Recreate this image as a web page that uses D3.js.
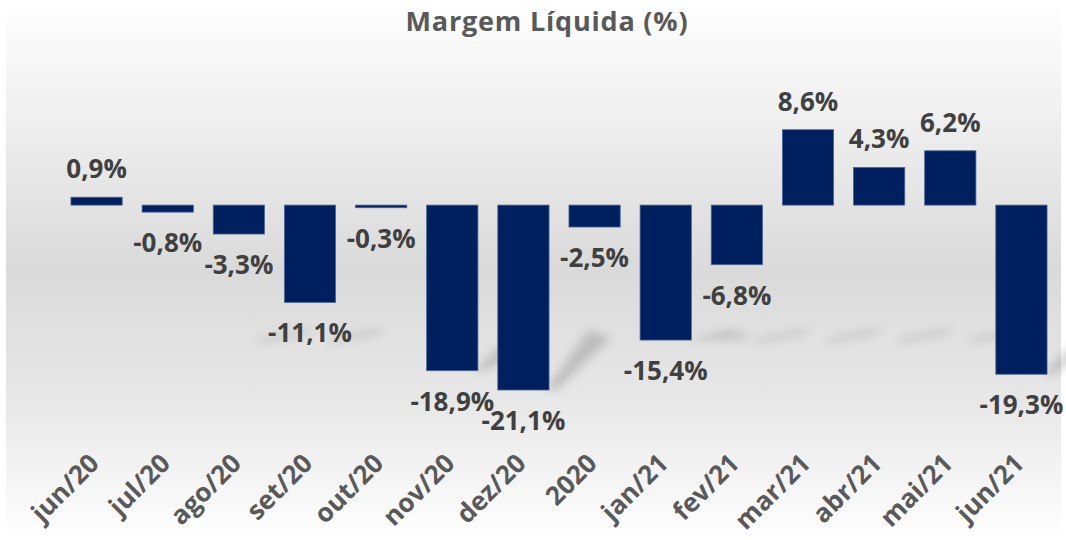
<!DOCTYPE html>
<html>
<head>
<meta charset="utf-8">
<script src="https://cdn.jsdelivr.net/npm/d3@7"></script>
<style>
  html, body { margin: 0; padding: 0; background: #ffffff; }
  svg { display: block; }
  text { font-family: "Open Sans", "DejaVu Sans", sans-serif; font-weight: 700; }
</style>
</head>
<body>
<svg id="chart" width="1066" height="540"></svg>
<script>
// chart data
const categories = ["jun/20", "jul/20", "ago/20", "set/20", "out/20", "nov/20", "dez/20",
  "2020", "jan/21", "fev/21", "mar/21", "abr/21", "mai/21", "jun/21"]
const margemLiquida = [0.9, -0.8, -3.3, -11.1, -0.3, -18.9, -21.1,
  -2.5, -15.4, -6.8, 8.6, 4.3, 6.2, -19.3]
const titleText = "Margem Líquida (%)"

const width = 1066
const height = 540

const svg = d3.select("#chart")

// plot background gradient
const defs = svg.append("defs")
const grad = defs.append("linearGradient")
  .attr("id", "bg")
  .attr("x1", 0).attr("y1", 0).attr("x2", 0).attr("y2", 1)
grad.selectAll("stop")
  .data([
    {o: 0, c: "#ffffff"},
    {o: 0.22, c: "#efefef"},
    {o: 0.5, c: "#dadada"},
    {o: 0.75, c: "#e8e8e8"},
    {o: 1, c: "#ffffff"}
  ])
  .join("stop")
  .attr("offset", d => d.o)
  .attr("stop-color", d => d.c)

defs.append("filter")
  .attr("id", "blur")
  .attr("x", "-50%").attr("y", "-50%").attr("width", "200%").attr("height", "200%")
  .append("feGaussianBlur")
  .attr("stdDeviation", 5)

svg.append("rect")
  .attr("x", 6).attr("y", 0)
  .attr("width", 1055).attr("height", height)
  .attr("fill", "url(#bg)")

// scales
const x = d3.scaleBand()
  .domain(categories)
  .range([61, 1057])
  .paddingInner(0.28)
  .paddingOuter(0.14)

const y = d3.scaleLinear()
  .domain([-21.1, 8.6])
  .range([390, 205 - 8.6 * 8.75])

const data = categories.map((c, i) => ({cat: c, value: margemLiquida[i]}))

// soft floor shadows (excel perspective shadow look)
const floorY = 338
svg.append("g")
  .attr("filter", "url(#blur)")
  .selectAll("path")
  .data(data.filter(d => Math.abs(d.value) > 3))
  .join("path")
  .attr("d", d => {
    const right = x(d.cat) + x.bandwidth()
    const bottom = Math.max(y(d.value), y(0))
    if (bottom > floorY) {
      return `M${right - 4},${bottom} L${right + 8},${bottom} L${right + 62},${floorY} L${right + 40},${floorY - 8} Z`
    }
    return `M${right - 10},${floorY + 6} L${right + 40},${floorY - 4} L${right + 50},${floorY - 10} L${right},${floorY} Z`
  })
  .attr("fill", "#000")
  .attr("opacity", 0.16)

// bars
svg.append("g")
  .selectAll("rect")
  .data(data)
  .join("rect")
  .attr("x", d => x(d.cat))
  .attr("width", x.bandwidth())
  .attr("y", d => Math.min(y(d.value), y(0)))
  .attr("height", d => Math.abs(y(d.value) - y(0)))
  .attr("fill", "#001f5f")
  .attr("stroke", "#4a6593")
  .attr("stroke-width", 0.8)

// value labels
const fmt = v => d3.format(".1f")(v).replace(".", ",").replace("−", "-") + "%"
svg.append("g")
  .selectAll("text")
  .data(data)
  .join("text")
  .attr("x", d => x(d.cat) + x.bandwidth() / 2)
  .attr("y", d => d.value >= 0 ? y(d.value) - 19 : y(d.value) + 40)
  .attr("text-anchor", "middle")
  .attr("font-size", 26)
  .attr("fill", "#404040")
  .text(d => fmt(d.value))

// category axis (rotated labels, no line)
const xAxis = d3.axisBottom(x).tickSize(0).tickPadding(0)
const axisG = svg.append("g")
  .attr("transform", "translate(0,465)")
  .call(xAxis)
axisG.select(".domain").remove()
axisG.selectAll("text")
  .attr("font-size", 26)
  .attr("font-family", "'Open Sans', sans-serif")
  .attr("font-weight", 700)
  .attr("fill", "#595959")
  .attr("text-anchor", "end")
  .attr("dy", 0)
  .attr("transform", "translate(4,0) rotate(-45)")

// title
svg.append("text")
  .attr("x", 547)
  .attr("y", 31)
  .attr("text-anchor", "middle")
  .attr("font-size", 27)
  .attr("letter-spacing", 0.8)
  .attr("fill", "#595959")
  .text(titleText)
</script>
</body>
</html>
